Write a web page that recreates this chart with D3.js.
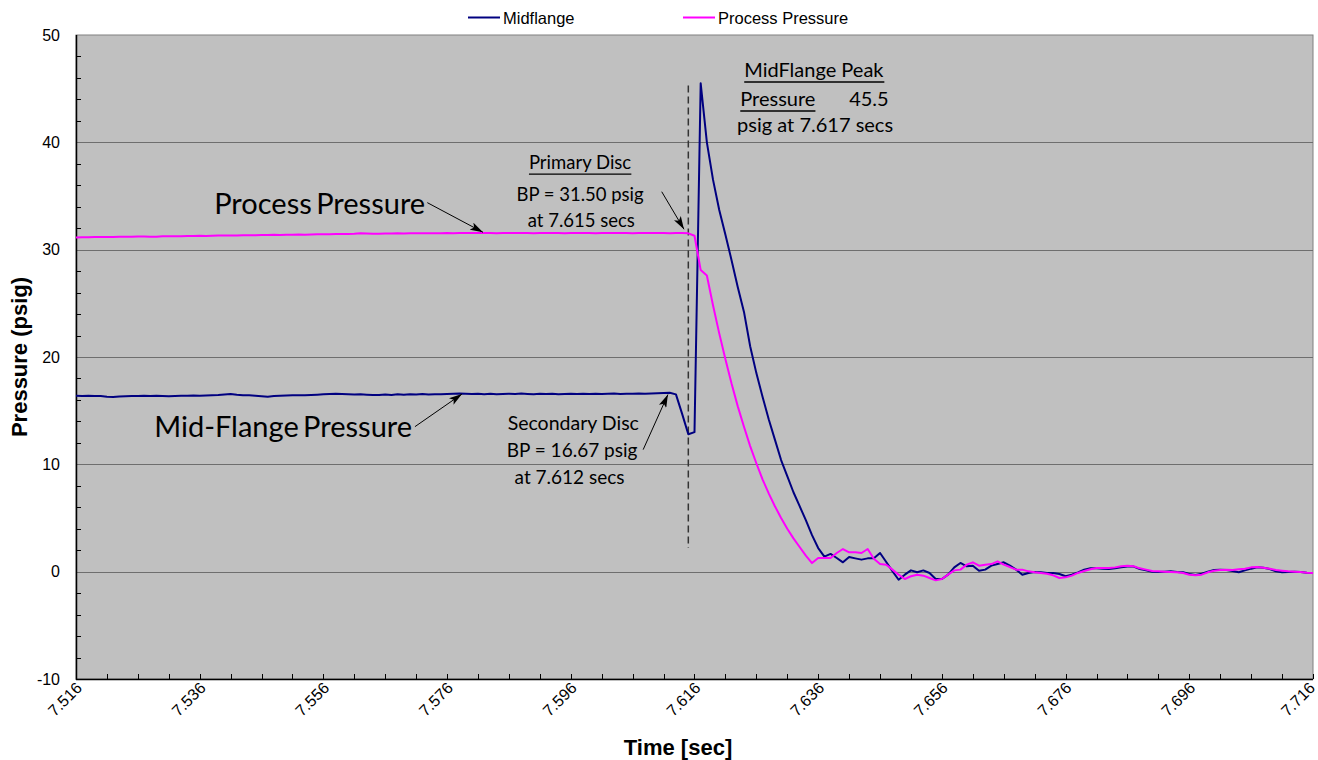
<!DOCTYPE html>
<html>
<head>
<meta charset="utf-8">
<script src="https://cdn.jsdelivr.net/npm/d3@7"></script>
<style>
  body { margin: 0; background: #fff; }
  svg { display: block; }
  .tick-label { font-family: "Liberation Sans", Arial, sans-serif; font-size: 16px; fill: #000; }
  .axis-title { font-family: "Liberation Sans", Arial, sans-serif; font-size: 22px; font-weight: bold; fill: #000; }
  .legend-label { font-family: "Liberation Sans", Arial, sans-serif; font-size: 16.5px; fill: #000; }
  .note { font-family: Lato, "Open Sans", sans-serif; fill: #000; }
</style>
</head>
<body>
<div id="chart"></div>
<script>
// samples every 1 ms starting at 7.516 s
var startTime = 7.516;
var stepTime = 0.001;

var midflange = [
  16.38, 16.37, 16.38, 16.37, 16.36, 16.30, 16.28, 16.33, 16.35, 16.36,
  16.37, 16.38, 16.37, 16.38, 16.36, 16.34, 16.37, 16.38, 16.40, 16.41,
  16.40, 16.42, 16.44, 16.45, 16.50, 16.55, 16.48, 16.44, 16.43, 16.40,
  16.35, 16.30, 16.36, 16.40, 16.42, 16.43, 16.44, 16.43, 16.45, 16.48,
  16.52, 16.56, 16.58, 16.55, 16.52, 16.50, 16.52, 16.49, 16.47, 16.46,
  16.50, 16.47, 16.52, 16.48, 16.53, 16.50, 16.55, 16.51, 16.54, 16.52,
  16.56, 16.58, 16.60, 16.57, 16.55, 16.58, 16.54, 16.57, 16.53, 16.56,
  16.58, 16.55, 16.59, 16.56, 16.54, 16.57, 16.55, 16.58, 16.54, 16.56,
  16.58, 16.55, 16.57, 16.55, 16.58, 16.56, 16.57, 16.59, 16.56, 16.58,
  16.57, 16.59, 16.58, 16.60, 16.62, 16.64,
  16.67, 16.52, 14.7, 12.8, 13.0, 45.5,
  40.0, 36.5, 33.7, 31.4, 29.0, 26.5, 24.2, 21.0, 18.5, 16.3,
  14.2, 12.3, 10.4, 8.9, 7.4, 6.1, 4.8, 3.4, 2.2, 1.4,
  1.65, 1.27, 0.87, 1.37, 1.24, 1.12, 1.24, 1.24, 1.74, 0.90,
  0.05, -0.75, -0.28, 0.12, -0.06, 0.12, -0.12, -0.68, -0.68, -0.28,
  0.40, 0.81, 0.50, 0.56, 0.09, 0.19, 0.56, 0.71, 0.87, 0.56,
  0.19, -0.28, -0.12, -0.03, -0.06, -0.12, -0.12, -0.22,
  -0.43, -0.28, -0.06, 0.19, 0.31, 0.31, 0.28, 0.25, 0.31, 0.40,
  0.47, 0.47, 0.25, 0.12, 0.00, -0.03, 0.00, 0.03, -0.03, -0.06,
  -0.22, -0.31, -0.19, 0.00, 0.16, 0.19, 0.16, 0.06, -0.06, 0.12,
  0.28, 0.40, 0.37, 0.25, 0.03, -0.06, -0.03, 0.00, -0.03, -0.09,
  -0.12
];

var processPressure = [
  31.14, 31.15, 31.15, 31.17, 31.18, 31.17, 31.19, 31.20, 31.21, 31.20,
  31.22, 31.23, 31.21, 31.20, 31.24, 31.25, 31.26, 31.25, 31.27, 31.28,
  31.29, 31.28, 31.30, 31.31, 31.32, 31.31, 31.33, 31.34, 31.35, 31.34,
  31.36, 31.37, 31.38, 31.37, 31.39, 31.40, 31.41, 31.40, 31.42, 31.43,
  31.44, 31.43, 31.45, 31.46, 31.47, 31.48, 31.52, 31.50, 31.48, 31.49,
  31.50, 31.51, 31.52, 31.51, 31.52, 31.53, 31.53, 31.52, 31.54, 31.54,
  31.55, 31.54, 31.55, 31.56, 31.55, 31.55, 31.56, 31.55, 31.54, 31.55,
  31.55, 31.56, 31.55, 31.55, 31.54, 31.55, 31.56, 31.55, 31.55, 31.54,
  31.55, 31.55, 31.56, 31.55, 31.54, 31.55, 31.55, 31.56, 31.55, 31.55,
  31.54, 31.55, 31.55, 31.56, 31.55, 31.55, 31.54, 31.55, 31.55, 31.52,
  31.3, 28.1, 27.6, 24.8, 22.2, 19.8, 17.5, 15.4, 13.5, 11.7,
  10.1, 8.6, 7.3, 6.1, 5.0, 4.0, 3.1, 2.3, 1.5, 0.8,
  1.27, 1.27, 1.27, 1.74, 2.11, 1.80, 1.80, 1.74, 2.11, 1.20,
  0.71, 0.65, 0.19, -0.28, -0.68, -0.43, -0.28, -0.37, -0.59, -0.81,
  -0.68, -0.28, 0.12, 0.19, 0.65, 0.87, 0.56, 0.65, 0.71, 0.96,
  0.65, 0.43, 0.19, 0.19, 0.03, -0.06, -0.12, -0.19, -0.34, -0.59,
  -0.53, -0.37, -0.12, 0.06, 0.22, 0.34, 0.34, 0.34, 0.40, 0.50,
  0.56, 0.50, 0.31, 0.19, 0.06, 0.03, 0.00, -0.03, -0.06, -0.12,
  -0.28, -0.34, -0.28, -0.06, 0.09, 0.16, 0.19, 0.16, 0.22, 0.28,
  0.40, 0.43, 0.37, 0.28, 0.16, 0.09, 0.03, 0.00, -0.03, -0.09,
  -0.12
];

var seriesNames = ["Midflange", "Process Pressure"];
var seriesColors = ["#000080", "#ff00ff"];
var yTickValues = [-10, 0, 10, 20, 30, 40, 50];
var xTickLabels = ["7.516", "7.536", "7.556", "7.576", "7.596", "7.616", "7.636", "7.656", "7.676", "7.696", "7.716"];

// rupture marker (dashed line)
var ruptureTime = 7.615;
var ruptureSpan = [45.3, 2.2];

var width = 1318, height = 760;
var plot = { left: 76, right: 1313, top: 35, bottom: 679 };

var timeAt = function(i) {
  return +(startTime + i * stepTime).toFixed(3);
};

var x = d3.scaleLinear().domain([7.516, 7.716]).range([plot.left, plot.right]);
var y = d3.scaleLinear().domain([-10, 50]).range([plot.bottom, plot.top]);

var svg = d3.select("#chart").append("svg")
  .attr("width", width)
  .attr("height", height);

svg.append("rect").attr("width", width).attr("height", height).attr("fill", "#fff");

var defs = svg.append("defs");
defs.append("marker")
  .attr("id", "arrow")
  .attr("markerUnits", "userSpaceOnUse")
  .attr("viewBox", "0 0 13 8")
  .attr("refX", 13).attr("refY", 4)
  .attr("markerWidth", 13).attr("markerHeight", 8)
  .attr("orient", "auto")
  .append("path")
  .attr("d", "M0,0 L13,4 L0,8 L3,4 Z")
  .attr("fill", "#000");

// plot area
svg.append("rect")
  .attr("x", plot.left).attr("y", plot.top)
  .attr("width", plot.right - plot.left)
  .attr("height", plot.bottom - plot.top)
  .attr("fill", "#c0c0c0")
  .attr("stroke", "#808080")
  .attr("stroke-width", 1);

// gridlines
svg.append("g").selectAll("line")
  .data(yTickValues.filter(function(v) { return v > -10 && v < 50; }))
  .enter().append("line")
  .attr("x1", plot.left).attr("x2", plot.right)
  .attr("y1", function(d) { return Math.round(y(d)) + 0.5; })
  .attr("y2", function(d) { return Math.round(y(d)) + 0.5; })
  .attr("stroke", "#6e6e6e")
  .attr("stroke-width", 1);

// minor y ticks every 2 psig, inside
var yMinor = d3.range(-8, 50, 2).filter(function(v) { return v % 10 !== 0; });
svg.append("g").selectAll("line")
  .data(yMinor)
  .enter().append("line")
  .attr("x1", plot.left).attr("x2", plot.left + 5)
  .attr("y1", function(d) { return Math.round(y(d)) + 0.5; })
  .attr("y2", function(d) { return Math.round(y(d)) + 0.5; })
  .attr("stroke", "#000");

// x ticks every 5 samples, inside
var xTickIdx = d3.range(0, midflange.length, 5);
svg.append("g").selectAll("line")
  .data(xTickIdx)
  .enter().append("line")
  .attr("x1", function(i) { return Math.round(x(timeAt(i))) + 0.5; })
  .attr("x2", function(i) { return Math.round(x(timeAt(i))) + 0.5; })
  .attr("y1", plot.bottom).attr("y2", plot.bottom - 5)
  .attr("stroke", "#000");

// axis lines
svg.append("line")
  .attr("x1", plot.left + 0.5).attr("x2", plot.left + 0.5)
  .attr("y1", plot.top).attr("y2", plot.bottom + 1)
  .attr("stroke", "#000").attr("stroke-width", 1.5);
svg.append("line")
  .attr("x1", plot.left).attr("x2", plot.right)
  .attr("y1", plot.bottom + 0.5).attr("y2", plot.bottom + 0.5)
  .attr("stroke", "#000").attr("stroke-width", 1.5);

// y tick labels
svg.append("g").selectAll("text")
  .data(yTickValues)
  .enter().append("text")
  .attr("class", "tick-label")
  .attr("x", 60)
  .attr("y", function(d) { return y(d); })
  .attr("dy", "0.35em")
  .attr("text-anchor", "end")
  .text(function(d) { return d; });

// x tick labels, rotated
svg.append("g").selectAll("text")
  .data(xTickLabels)
  .enter().append("text")
  .attr("class", "tick-label")
  .attr("text-anchor", "end")
  .attr("transform", function(d, i) {
    var off = i === xTickLabels.length - 1 ? 3 : 7;
    return "translate(" + (x(+d) + off) + "," + 689 + ") rotate(-45)";
  })
  .text(function(d) { return d; });

// axis titles
svg.append("text")
  .attr("class", "axis-title")
  .attr("text-anchor", "middle")
  .attr("transform", "translate(27," + y(20) + ") rotate(-90)")
  .text("Pressure (psig)");
svg.append("text")
  .attr("class", "axis-title")
  .attr("text-anchor", "middle")
  .attr("x", 678).attr("y", 755)
  .text("Time [sec]");

// series lines
var line = d3.line()
  .x(function(d, i) { return x(timeAt(i)); })
  .y(function(d) { return y(d); });

var clip = defs.append("clipPath").attr("id", "plotclip");
clip.append("rect")
  .attr("x", plot.left).attr("y", plot.top)
  .attr("width", plot.right - plot.left).attr("height", plot.bottom - plot.top);

var lines = svg.append("g").attr("clip-path", "url(#plotclip)");

// dashed rupture marker
lines.append("line")
  .attr("x1", x(ruptureTime)).attr("x2", x(ruptureTime))
  .attr("y1", y(ruptureSpan[0])).attr("y2", y(ruptureSpan[1]))
  .attr("stroke", "#333")
  .attr("stroke-width", 1.5)
  .attr("stroke-dasharray", "7,4");

[midflange, processPressure].forEach(function(series, k) {
  lines.append("path")
    .datum(series)
    .attr("fill", "none")
    .attr("stroke", seriesColors[k])
    .attr("stroke-width", 2)
    .attr("stroke-linejoin", "round")
    .attr("d", line);
});

// legend
var legendX = [468, 683];
seriesNames.forEach(function(name, k) {
  svg.append("line")
    .attr("x1", legendX[k]).attr("x2", legendX[k] + 32)
    .attr("y1", 17.5).attr("y2", 17.5)
    .attr("stroke", seriesColors[k]).attr("stroke-width", 2);
  svg.append("text")
    .attr("class", "legend-label")
    .attr("x", legendX[k] + 35).attr("y", 23.5)
    .text(name);
});

// annotations, anchored in data coordinates
var noteLayout = [
  { text: "Process Pressure", t: 7.5554, v: 34.29, size: 29, anchor: "middle", ws: -3 },
  { text: "Mid-Flange Pressure", t: 7.5495, v: 13.51, size: 29, anchor: "middle", ws: -3 },
  { text: "Primary Disc", t: 7.5975, v: 38.11, size: 18.5, anchor: "middle", underline: true },
  { text: "BP = 31.50 psig", t: 7.5975, v: 35.13, size: 18.5, anchor: "middle" },
  { text: "at 7.615 secs", t: 7.5977, v: 32.70, size: 18.5, anchor: "middle" },
  { text: "Secondary Disc", t: 7.5964, v: 13.79, size: 19.5, anchor: "middle" },
  { text: "BP = 16.67 psig", t: 7.5962, v: 11.27, size: 19, anchor: "middle" },
  { text: "at 7.612 secs", t: 7.5958, v: 8.76, size: 19, anchor: "middle" },
  { text: "MidFlange Peak", t: 7.6353, v: 46.77, size: 20, anchor: "middle", underline: true },
  { text: "Pressure", t: 7.6234, v: 44.07, size: 20, anchor: "start", underline: true },
  { text: "45.5", t: 7.6410, v: 44.07, size: 20, anchor: "start" },
  { text: "psig at 7.617 secs", t: 7.6355, v: 41.65, size: 20, anchor: "middle" }
];

var arrowLayout = [
  { from: [7.5728, 34.38], to: [7.5818, 31.62] },
  { from: [7.6107, 35.40], to: [7.6143, 31.90] },
  { from: [7.5708, 13.51], to: [7.5784, 16.55] },
  { from: [7.6077, 11.37], to: [7.6117, 16.50] }
];

noteLayout.forEach(function(n) {
  var t = svg.append("text")
    .attr("class", "note")
    .attr("x", x(n.t)).attr("y", y(n.v))
    .attr("dy", "0.35em")
    .attr("text-anchor", n.anchor)
    .style("font-size", n.size + "px")
    .style("word-spacing", (n.ws || 0) + "px")
    .text(n.text);
  if (n.underline) {
    var b = t.node().getBBox();
    svg.append("line")
      .attr("x1", b.x).attr("x2", b.x + b.width)
      .attr("y1", y(n.v) + n.size * 0.62).attr("y2", y(n.v) + n.size * 0.62)
      .attr("stroke", "#000").attr("stroke-width", 1.4);
  }
});

svg.append("g").selectAll("line")
  .data(arrowLayout)
  .enter().append("line")
  .attr("x1", function(d) { return x(d.from[0]); })
  .attr("y1", function(d) { return y(d.from[1]); })
  .attr("x2", function(d) { return x(d.to[0]); })
  .attr("y2", function(d) { return y(d.to[1]); })
  .attr("stroke", "#000")
  .attr("stroke-width", 1)
  .attr("marker-end", "url(#arrow)");
</script>
</body>
</html>
